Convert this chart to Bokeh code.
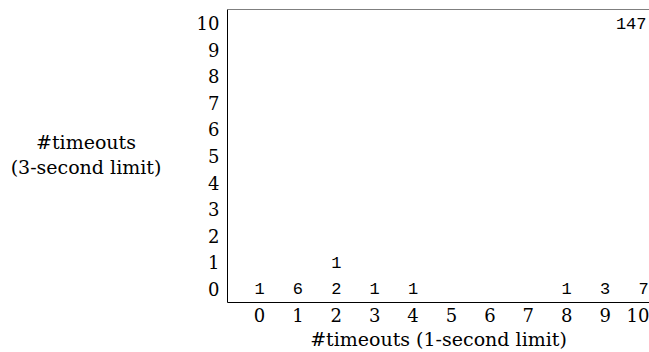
from bokeh.plotting import figure
from bokeh.models import ColumnDataSource, FixedTicker, Span, Div
from bokeh.layouts import row
from bokeh.core.properties import value
from bokeh.embed import file_html
from bokeh.resources import INLINE

# data: (1-second timeouts, 3-second timeouts) -> count
x_vals = [0, 1, 2, 3, 4, 8, 9, 10, 2, 10]
y_vals = [0, 0, 0, 0, 0, 0, 0, 0, 1, 10]
counts = [1, 6, 2, 1, 1, 1, 3, 7, 1, 147]
x_ticks = list(range(0, 11))
y_ticks = list(range(0, 11))
x_title = "#timeouts (1-second limit)"
y_title_lines = ["#timeouts", "(3-second limit)"]

x_start, x_end = -0.833, 10.156
y_start, y_end = -0.52, 10.52

labels = [str(c) for c in counts]
aligns = ["right" if (x == max(x_ticks) and len(s) > 1) else "center" for x, s in zip(x_vals, labels)]
offsets = [3 if a == "right" else 0 for a in aligns]

src = ColumnDataSource(dict(x=x_vals, y=y_vals, t=labels, a=aligns, o=offsets))

left_w = 172
p = figure(width=649 - left_w, height=352, x_range=(x_start, x_end), y_range=(y_start, y_end),
           output_backend="svg", toolbar_location=None,
           min_border_left=227 - left_w, min_border_right=0, min_border_top=9, min_border_bottom=50)
p.grid.visible = False
p.outline_line_color = None
p.background_fill_color = "white"
p.border_fill_color = "white"

p.text(x="x", y="y", text="t", source=src, text_align="a", x_offset="o",
       text_baseline="middle", text_font=value("Liberation Mono"),
       text_font_size="17px", text_color="black")

serif = "DejaVu Serif"
for ax in (p.xaxis[0], p.yaxis[0]):
    ax.major_tick_in = 0
    ax.major_tick_out = 0
    ax.minor_tick_in = 0
    ax.minor_tick_out = 0
    ax.axis_line_color = "black"
    ax.axis_line_width = 1
    ax.major_label_text_font = serif
    ax.major_label_text_font_size = "18px"
    ax.major_label_text_color = "black"
    ax.axis_label_text_font = serif
    ax.axis_label_text_font_size = "19px"
    ax.axis_label_text_font_style = "normal"
    ax.axis_label_text_color = "black"

p.xaxis[0].ticker = FixedTicker(ticks=x_ticks)
p.yaxis[0].ticker = FixedTicker(ticks=y_ticks)
p.xaxis[0].axis_label = x_title
p.xaxis[0].major_label_standoff = 5
p.xaxis[0].axis_label_standoff = 3
p.yaxis[0].major_label_standoff = 8

p.add_layout(Span(location=y_end, dimension="width", line_color="black", line_width=1))

ylab = Div(
    text=("<div style=\"text-align:center;font-family:'DejaVu Serif';font-size:19px;"
          "line-height:25px;color:black;width:%dpx;margin-top:130px\">%s</div>"
          % (left_w, "<br>".join(y_title_lines))),
    width=left_w, height=352, margin=0)

layout = row(ylab, p, spacing=0)

open("out.html", "w").write(file_html(layout, INLINE))
